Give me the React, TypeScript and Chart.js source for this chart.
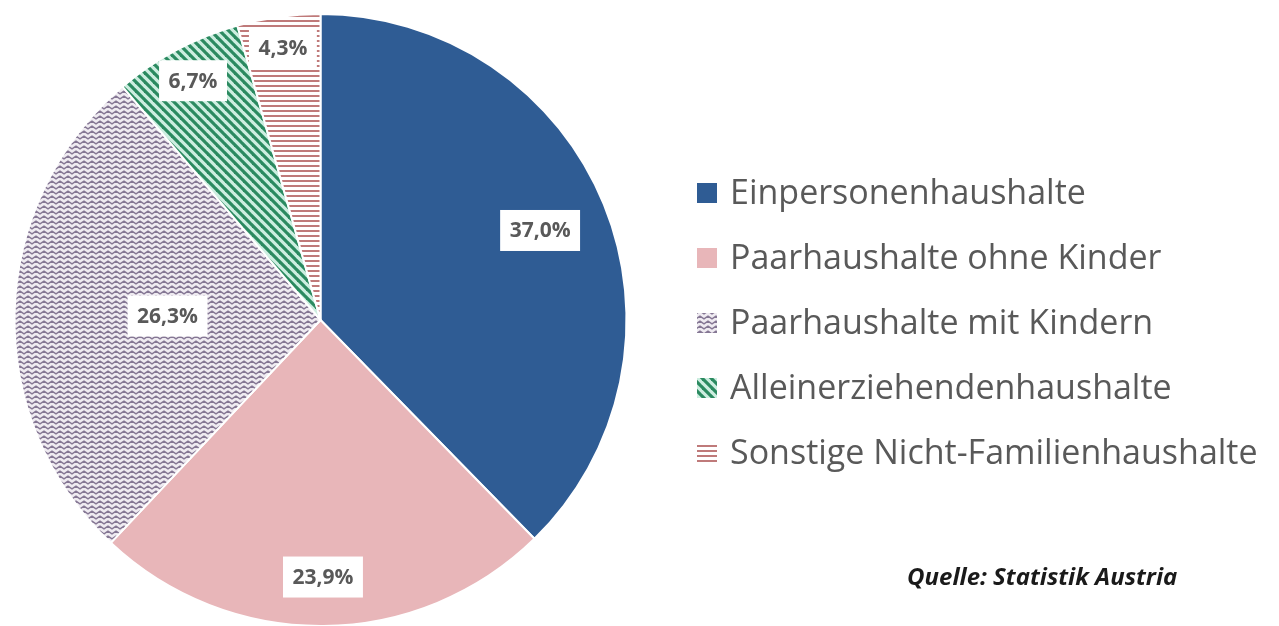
import React, { useEffect, useRef } from "react";
import { Chart, registerables } from "chart.js";

Chart.register(...registerables);

// ---- data ----
const categories = [
  "Einpersonenhaushalte",
  "Paarhaushalte ohne Kinder",
  "Paarhaushalte mit Kindern",
  "Alleinerziehendenhaushalte",
  "Sonstige Nicht-Familienhaushalte",
];
const shares = [37.0, 23.9, 26.3, 6.7, 4.3];
const valueLabels = ["37,0%", "23,9%", "26,3%", "6,7%", "4,3%"];
const sourceText = "Quelle: Statistik Austria";

// ---- style ----
const fills = ["solid:#2F5C94", "solid:#E8B6B9", "waves", "diag", "hstripes"];
const labelRadiusFrac = [0.775, 0.84, 0.5, 0.886, 0.896];
const LEGEND_X = 697;
const LEGEND_Y0 = 193;
const LEGEND_STEP = 65;
const SWATCH = 20;
const TEXT_COLOR = "#595959";

function makeFill(ctx: CanvasRenderingContext2D, kind: string): string | CanvasPattern {
  if (kind.startsWith("solid:")) return kind.slice(6);
  const c = document.createElement("canvas");
  const g = c.getContext("2d")!;
  if (kind === "waves") {
    c.width = 8;
    c.height = 5;
    g.fillStyle = "#efebf1";
    g.fillRect(0, 0, 8, 5);
    g.strokeStyle = "#857794";
    g.lineWidth = 1.4;
    g.beginPath();
    g.moveTo(-4, 1.2);
    g.lineTo(0, 3.8);
    g.lineTo(4, 1.2);
    g.lineTo(8, 3.8);
    g.lineTo(12, 1.2);
    g.stroke();
  } else if (kind === "diag") {
    const s = 9;
    c.width = s;
    c.height = s;
    g.fillStyle = "#cdeee0";
    g.fillRect(0, 0, s, s);
    g.strokeStyle = "#2b8a60";
    g.lineWidth = 3.2;
    for (let k = -1; k <= 1; k++) {
      g.beginPath();
      g.moveTo(-2, -2 + k * s);
      g.lineTo(s + 2, s + 2 + k * s);
      g.stroke();
    }
  } else if (kind === "hstripes") {
    c.width = 8;
    c.height = 5;
    g.fillStyle = "#ffffff";
    g.fillRect(0, 0, 8, 5);
    g.fillStyle = "#bf7a7a";
    g.fillRect(0, 0, 8, 2);
  }
  return ctx.createPattern(c, "repeat")!;
}

const overlayPlugin = {
  id: "overlay",
  afterDatasetsDraw(chart: any) {
    const ctx: CanvasRenderingContext2D = chart.ctx;
    const meta = chart.getDatasetMeta(0);
    ctx.save();
    ctx.font = "bold 21px 'Open Sans'";
    ctx.textAlign = "center";
    ctx.textBaseline = "middle";
    meta.data.forEach((arc: any, i: number) => {
      const p = arc.getProps(["x", "y", "startAngle", "endAngle", "outerRadius"], true);
      const mid = (p.startAngle + p.endAngle) / 2;
      const r = p.outerRadius * labelRadiusFrac[i];
      const cx = p.x + Math.cos(mid) * r;
      const cy = p.y + Math.sin(mid) * r;
      const w = ctx.measureText(valueLabels[i]).width + 19;
      const h = 41;
      ctx.fillStyle = "#ffffff";
      ctx.fillRect(cx - w / 2, cy - h / 2, w, h);
      ctx.fillStyle = TEXT_COLOR;
      ctx.fillText(valueLabels[i], cx, cy + 1);
    });

    // legend
    const bg = chart.data.datasets[0].backgroundColor;
    ctx.textAlign = "left";
    ctx.font = "34px 'Open Sans'";
    categories.forEach((name, i) => {
      const y = LEGEND_Y0 + i * LEGEND_STEP;
      ctx.fillStyle = bg[i];
      ctx.fillRect(LEGEND_X, y - SWATCH / 2, SWATCH, SWATCH);
      ctx.fillStyle = TEXT_COLOR;
      ctx.fillText(name, LEGEND_X + 33, y + 1);
    });

    ctx.font = "italic bold 24px 'Open Sans'";
    ctx.fillStyle = "#1a1a1a";
    ctx.fillText(sourceText, 907, 578);
    ctx.restore();
  },
};

export default function App() {
  const ref = useRef<HTMLCanvasElement | null>(null);
  useEffect(() => {
    const canvas = ref.current!;
    const ctx = canvas.getContext("2d")!;
    const chart = new Chart(ctx, {
      type: "pie",
      data: {
        labels: categories,
        datasets: [
          {
            data: shares,
            backgroundColor: fills.map((f) => makeFill(ctx, f)) as any,
            borderColor: "#ffffff",
            borderWidth: 2,
          },
        ],
      },
      options: {
        responsive: false,
        animation: false,
        layout: { padding: { left: 13, top: 13, right: 651, bottom: 33 } },
        plugins: { legend: { display: false }, tooltip: { enabled: false } },
      },
      plugins: [overlayPlugin],
    });
    return () => chart.destroy();
  }, []);
  return (
    <div style={{ position: "fixed", left: 0, top: 0, width: 1279, height: 626, overflow: "hidden", background: "#ffffff" }}>
      <canvas ref={ref} width={1279} height={660} style={{ width: 1279, height: 660, display: "block" }} />
    </div>
  );
}
